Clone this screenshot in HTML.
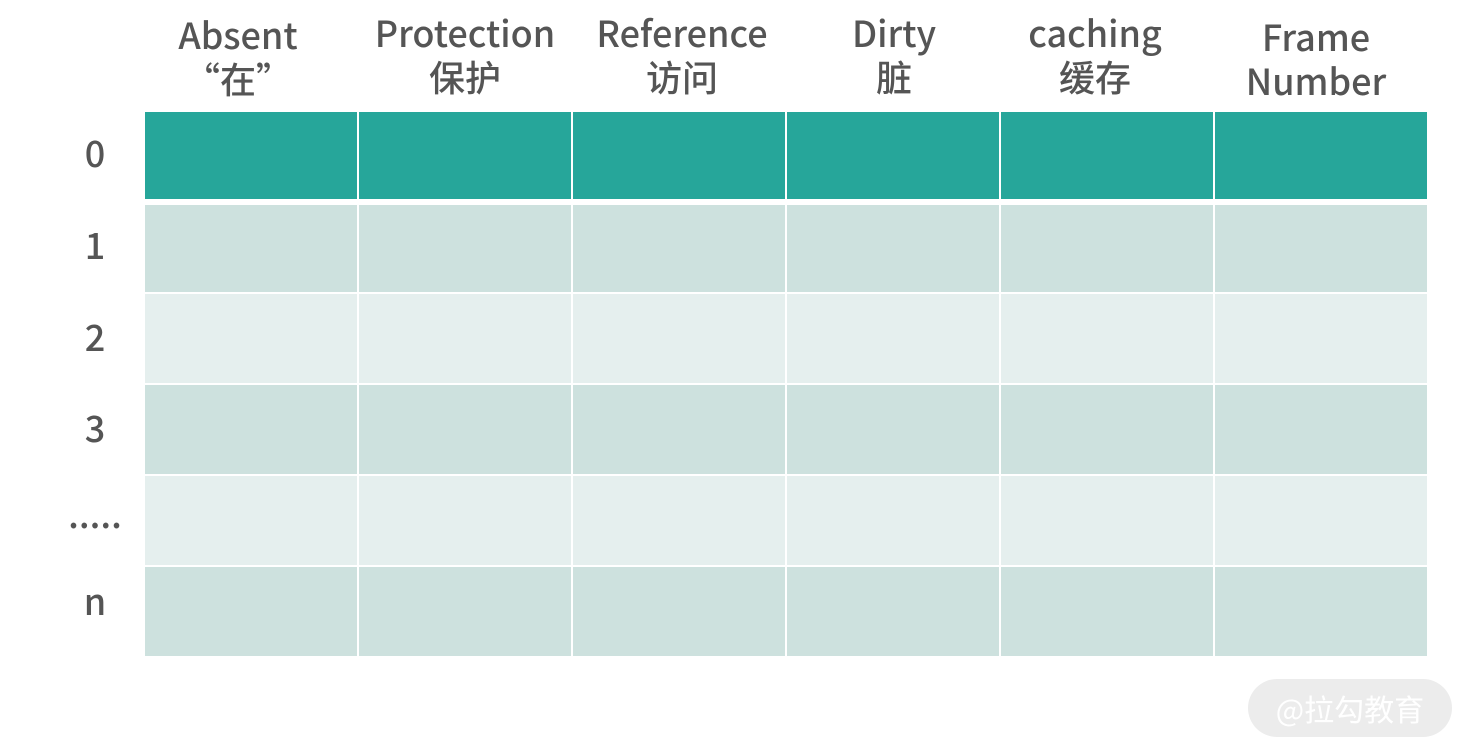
<!DOCTYPE html>
<html><head><meta charset="utf-8"><style>
body{margin:0;width:1474px;height:756px;background:#fff;position:relative;overflow:hidden;font-family:"Liberation Sans","Noto Sans CJK SC",sans-serif;color:#555}
.c{position:absolute;width:212px}
.h{position:absolute;width:214px;text-align:center;font-size:36px;line-height:44px;font-weight:500;font-family:"Noto Sans CJK SC","Liberation Sans",sans-serif}
.r{position:absolute;left:60px;width:70px;text-align:center;font-size:36px;font-weight:500;font-family:"Noto Sans CJK SC","Liberation Sans",sans-serif}
.wm{position:absolute;left:1248px;top:679px;width:204px;height:58px;border-radius:29px;background:#ececec;color:#fff;font-size:30px;line-height:58px;text-align:center;font-family:"Noto Sans CJK SC",sans-serif}
</style></head><body>
<div id="g"></div>
<div class="h" style="left:131px;top:12px">Absent<br>“在”</div>
<div class="h" style="left:358px;top:10px">Protection<br>保护</div>
<div class="h" style="left:575px;top:10px">Reference<br>访问</div>
<div class="h" style="left:787px;top:10px">Dirty<br>脏</div>
<div class="h" style="left:988px;top:10px">caching<br>缓存</div>
<div class="h" style="left:1209px;top:14px">Frame<br>Number</div>
<div class="r" style="top:126px">0</div>
<div class="r" style="top:218px">1</div>
<div class="r" style="top:310px">2</div>
<div class="r" style="top:401px">3</div>
<div class="r" style="top:487px">.....</div>
<div class="r" style="top:574px">n</div>
<div class="wm">@拉勾教育</div>
<script>
var xs=[145,359,573,787,1001,1215],rows=[[112,87,'#26a69a'],[205,87,'#cde1de'],[294,89,'#e5efee'],[385,89,'#cde1de'],[476,89,'#e5efee'],[567,89,'#cde1de']],h='';
rows.forEach(function(r){xs.forEach(function(x){h+='<div class="c" style="left:'+x+'px;top:'+r[0]+'px;height:'+r[1]+'px;background:'+r[2]+'"></div>';});});
document.getElementById('g').innerHTML=h;
</script>
</body></html>
